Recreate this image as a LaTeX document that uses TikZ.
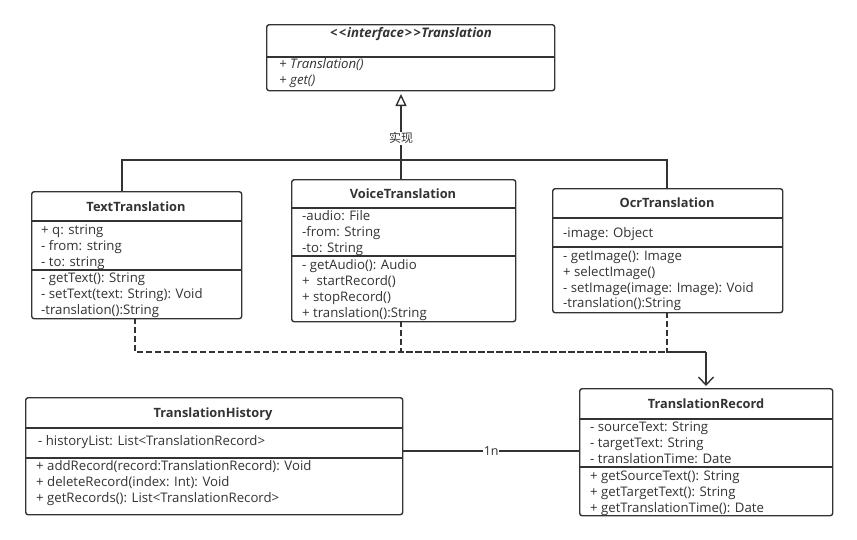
\documentclass[tikz,border=0pt]{standalone}
\usepackage{fontspec}
\setmainfont{Open Sans}
\newfontfamily\cjk{Noto Sans CJK SC}
\usetikzlibrary{arrows.meta}
\definecolor{ink}{HTML}{333333}
\tikzset{
  umlbox/.style={draw=ink, line width=1.4pt, rounded corners=2.5pt, fill=white, inner sep=0pt, anchor=north west},
  sep/.style={draw=ink, line width=1.2pt},
  ttl/.style={font=\fontsize{12.8}{14}\selectfont\bfseries, text=ink, inner sep=0pt, anchor=mid, yshift=-2pt},
  itl/.style={font=\fontsize{13.2}{14}\selectfont\bfseries\itshape, text=ink, inner sep=0pt, anchor=mid, yshift=-2pt},
  ln/.style={font=\fontsize{13.2}{15}\selectfont, text=ink, inner sep=0pt, anchor=mid west, yshift=-2pt},
  iln/.style={font=\fontsize{13.2}{15}\selectfont\itshape, text=ink, inner sep=0pt, anchor=mid west, yshift=-2pt},
  conn/.style={draw=ink, line width=1.4pt},
  dconn/.style={draw=ink, line width=1.4pt, dash pattern=on 6pt off 3pt},
  lbl/.style={fill=white, inner sep=1pt, text=ink}
}
\begin{document}
\begin{tikzpicture}[x=1pt, y=-1pt]
\fill[white] (0,0) rectangle (857,539);
\useasboundingbox (0,0) rectangle (857,539);

% Interface Translation
\node[umlbox, minimum width=288pt, minimum height=66pt] (tr) at (266,24) {};
\draw[sep] (tr.west |- 0,57) -- (tr.east |- 0,57);
\node[itl] (trT) at (411,33) {<\kern1.5pt<\kern1pt interface\kern1pt>\kern1.5pt>\kern0.5pt Translation};
\node[iln] (tr1) at (279,64) {+ Translation()};
\node[iln] (tr2) at (279,80) {+ get()};

% TextTranslation
\node[umlbox, minimum width=210pt, minimum height=127pt] (tt) at (31,191) {};
\draw[sep] (tt.west |- 0,221) -- (tt.east |- 0,221);
\draw[sep] (tt.west |- 0,270) -- (tt.east |- 0,270);
\node[ttl] (ttT) at (136,207) {TextTranslation};
\node[ln] (tt1) at (41,230) {+ q: string};
\node[ln] (tt2) at (41,246) {- from: string};
\node[ln] (tt3) at (41,262) {- to: string};
\node[ln] (tt4) at (41,278) {- getText(): String};
\node[ln] (tt5) at (41,294) {- setText(text: String): Void};
\node[ln] (tt6) at (41,310) {-translation():String};

% VoiceTranslation
\node[umlbox, minimum width=224pt, minimum height=142pt] (vt) at (291,179) {};
\draw[sep] (vt.west |- 0,208) -- (vt.east |- 0,208);
\draw[sep] (vt.west |- 0,256) -- (vt.east |- 0,256);
\node[ttl] (vtT) at (403,194) {VoiceTranslation};
\node[ln] (vt1) at (302,216) {-audio: File};
\node[ln] (vt2) at (302,232) {-from: String};
\node[ln] (vt3) at (302,248) {-to: String};
\node[ln] (vt4) at (302,265) {- getAudio(): Audio};
\node[ln] (vt5) at (302,281) {+\ \ startRecord()};
\node[ln] (vt6) at (302,297) {+ stopRecord()};
\node[ln] (vt7) at (302,313) {+ translation():String};

% OcrTranslation
\node[umlbox, minimum width=230pt, minimum height=124pt] (ot) at (552,188) {};
\draw[sep] (ot.west |- 0,218) -- (ot.east |- 0,218);
\draw[sep] (ot.west |- 0,247) -- (ot.east |- 0,247);
\node[ttl] (otT) at (667,203) {OcrTranslation};
\node[ln] (ot1) at (563,233) {-image: Object};
\node[ln] (ot2) at (563,256) {- getImage(): Image};
\node[ln] (ot3) at (563,272) {+ selectImage()};
\node[ln] (ot4) at (563,288) {- setImage(image: Image): Void};
\node[ln] (ot5) at (563,303) {-translation():String};

% TranslationHistory
\node[umlbox, minimum width=377pt, minimum height=117pt] (th) at (25,397) {};
\draw[sep] (th.west |- 0,428) -- (th.east |- 0,428);
\draw[sep] (th.west |- 0,458) -- (th.east |- 0,458);
\node[ttl] (thT) at (213,413) {TranslationHistory};
\node[ln] (th1) at (38,441) {- historyList: List<TranslationRecord>};
\node[ln] (th2) at (36,466) {+ addRecord(record:TranslationRecord): Void};
\node[ln] (th3) at (36,482) {+ deleteRecord(index: Int): Void};
\node[ln] (th4) at (36,498) {+ getRecords(): List<TranslationRecord>};

% TranslationRecord
\node[umlbox, minimum width=253pt, minimum height=127pt] (rc) at (579,388) {};
\draw[sep] (rc.west |- 0,419) -- (rc.east |- 0,419);
\draw[sep] (rc.west |- 0,467) -- (rc.east |- 0,467);
\node[ttl] (rcT) at (706,404) {TranslationRecord};
\node[ln] (rc1) at (590,427) {- sourceText: String};
\node[ln] (rc2) at (590,443) {- targetText: String};
\node[ln] (rc3) at (590,459) {- translationTime: Date};
\node[ln] (rc4) at (590,476) {+ getSourceText(): String};
\node[ln] (rc5) at (590,492) {+ getTargetText(): String};
\node[ln] (rc6) at (590,508) {+ getTranslationTime(): Date};

% Realization
\coordinate (hub) at (401,160);
\coordinate (ttTop) at (122,191);
\coordinate (vtTop) at (401,179);
\coordinate (otTop) at (667,188);
\coordinate (trBot) at (401,94);
\draw[conn] (ttTop) |- (hub) -| (otTop);
\draw[conn] (vtTop) -- (hub);
\draw[conn, -{Triangle[open, length=12pt, width=11pt, line width=1.4pt]}] (hub) -- (trBot)
  node[lbl, pos=0.33, font=\cjk\fontsize{12}{13}\selectfont] (impl) {实现};

% Dependencies
\coordinate (ttBot) at (135,318);
\coordinate (vtBot) at (401,321);
\coordinate (otBot) at (667,312);
\coordinate (join) at (706,352);
\coordinate (rcTop) at (706,386);
\draw[dconn] (ttBot) |- (join);
\draw[dconn] (vtBot) |- (join);
\draw[dconn] (otBot) |- (join);
\draw[conn, -{Straight Barb[length=8pt, width=15pt, line width=1.4pt]}] (join) -- (rcTop);

% Association
\draw[conn] (th.east |- 0,451) -- (rc.west |- 0,451)
  node[lbl, midway, font=\fontsize{12.5}{14}\selectfont, inner sep=0.5pt] (mult) {1n};
\end{tikzpicture}
\end{document}
